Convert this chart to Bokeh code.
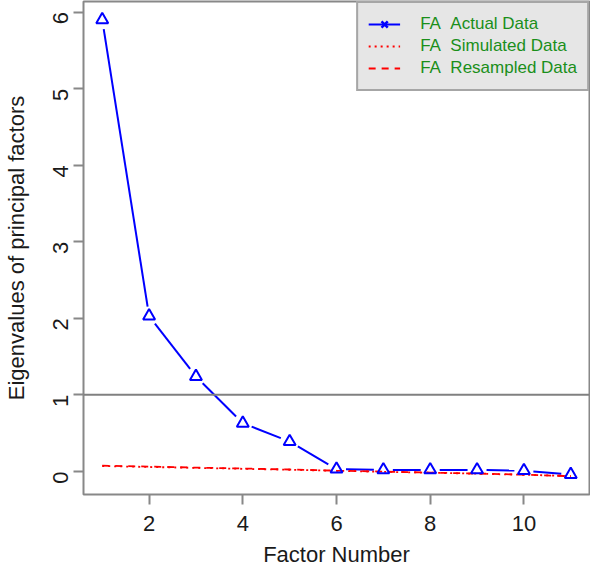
import math
import numpy as np
from bokeh.plotting import figure
from bokeh.models import Range1d, FixedTicker, Span, Legend, LegendItem
from bokeh.embed import file_html
from bokeh.resources import INLINE

factors = [1, 2, 3, 4, 5, 6, 7, 8, 9, 10, 11]
actual = [5.90, 2.03, 1.24, 0.63, 0.39, 0.03, 0.02, 0.02, 0.02, 0.01, -0.04]
simulated = [0.070, 0.058, 0.046, 0.034, 0.022, 0.008, -0.005, -0.017, -0.030, -0.044, -0.060]
resampled = [0.075, 0.063, 0.050, 0.038, 0.025, 0.010, -0.003, -0.015, -0.028, -0.042, -0.063]
x_ticks = [2, 4, 6, 8, 10]
y_ticks = [0, 1, 2, 3, 4, 5, 6]
legend_labels = ["FA\u00a0\u00a0Actual Data", "FA\u00a0\u00a0Simulated Data", "FA\u00a0\u00a0Resampled Data"]

FONT = "Liberation Sans"
W, H = 590, 569
BL, BR, BT, BB = 83, 1, 1, 75

# R-style 4% axis padding
xlo, xhi = min(factors), max(factors)
xpad = (xhi - xlo) * 0.04
allv = actual + simulated + resampled
ylo, yhi = min(allv), max(allv)
ypad = (yhi - ylo) * 0.04

p = figure(width=W, height=H, output_backend="svg", toolbar_location=None,
           x_range=Range1d(xlo - xpad, xhi + xpad),
           y_range=Range1d(ylo - ypad, yhi + ypad),
           min_border_left=BL, min_border_right=BR, min_border_top=BT, min_border_bottom=BB)
p.grid.visible = False
p.outline_line_color = "#888888"
p.outline_line_width = 2
p.background_fill_color = "white"
p.border_fill_color = "white"

for ax in (p.xaxis[0], p.yaxis[0]):
    ax.axis_line_color = None
    ax.major_tick_line_color = "#888888"
    ax.major_tick_line_width = 2
    ax.major_tick_in = 0
    ax.major_tick_out = 10
    ax.minor_tick_line_color = None
    ax.major_label_text_font = FONT
    ax.major_label_text_font_size = "22px"
    ax.major_label_text_color = "#1a1a1a"
    ax.axis_label_text_font = FONT
    ax.axis_label_text_font_size = "22px"
    ax.axis_label_text_font_style = "normal"
    ax.axis_label_text_color = "#1a1a1a"

p.xaxis.ticker = FixedTicker(ticks=x_ticks)
p.yaxis.ticker = FixedTicker(ticks=y_ticks)
p.xaxis.axis_label = "Factor Number"
p.yaxis.axis_label = "Eigenvalues of principal factors"
p.xaxis.major_label_standoff = 11
p.xaxis.axis_label_standoff = 8
p.yaxis.major_label_standoff = 13
p.yaxis.axis_label_standoff = 14
p.yaxis.major_label_orientation = math.pi / 2

p.add_layout(Span(location=1, dimension="width", line_color="#808080", line_width=2))

# type="b" style: segments with gaps around points
fw = W - BL - BR
fh = H - BT - BB
sx = fw / (p.x_range.end - p.x_range.start)
sy = fh / (p.y_range.end - p.y_range.start)
gap = 9.5
xa = np.array(factors, dtype=float)
ya = np.array(actual, dtype=float)
x0s, y0s, x1s, y1s = [], [], [], []
for i in range(len(xa) - 1):
    dxp = (xa[i + 1] - xa[i]) * sx
    dyp = (ya[i + 1] - ya[i]) * sy
    L = math.hypot(dxp, dyp)
    if L <= 2 * gap:
        continue
    f = gap / L
    x0s.append(xa[i] + f * (xa[i + 1] - xa[i]))
    y0s.append(ya[i] + f * (ya[i + 1] - ya[i]))
    x1s.append(xa[i + 1] - f * (xa[i + 1] - xa[i]))
    y1s.append(ya[i + 1] - f * (ya[i + 1] - ya[i]))
p.segment(x0=x0s, y0=y0s, x1=x1s, y1=y1s, line_color="#0000FF", line_width=2)

r_sim = p.line(factors, simulated, line_color="#FF0000", line_width=1.8, line_dash="2 4")
r_res = p.line(factors, resampled, line_color="#FF0000", line_width=1.8, line_dash="7 6")
p.scatter(factors, actual, marker="triangle", size=12, fill_color=None,
          line_color="#0000FF", line_width=2)

# legend proxies (no visible data)
nanx = [float("nan")]
l_act = p.line(nanx, nanx, line_color="#0000FF", line_width=2)
m_act = p.scatter(nanx, nanx, marker="x", size=11, line_color="#0000FF", line_width=2.5)

legend = Legend(items=[
    LegendItem(label=legend_labels[0], renderers=[l_act, m_act]),
    LegendItem(label=legend_labels[1], renderers=[r_sim]),
    LegendItem(label=legend_labels[2], renderers=[r_res]),
], location="top_right")
legend.margin = 0
legend.padding = 10
legend.spacing = 0
legend.glyph_width = 32
legend.glyph_height = 22
legend.label_height = 22
legend.label_standoff = 20
legend.label_text_font = FONT
legend.label_text_font_size = "17px"
legend.label_text_color = "#1a8f1a"
legend.background_fill_color = "#e6e6e6"
legend.background_fill_alpha = 1.0
legend.border_line_color = "#666666"
legend.border_line_width = 2
p.add_layout(legend)

open("out.html", "w").write(file_html(p, INLINE))
